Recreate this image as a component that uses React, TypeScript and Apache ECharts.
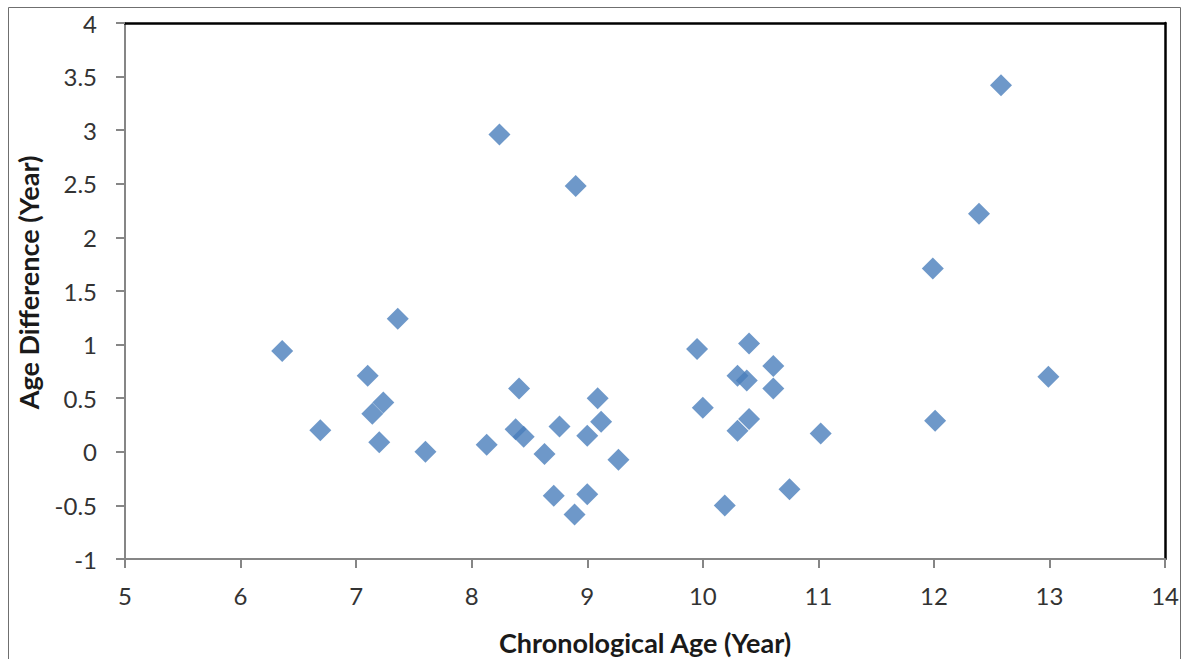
import React, { useEffect, useRef } from "react";
import * as echarts from "echarts";

const chronologicalAge = [
  6.36, 6.69, 7.1, 7.14, 7.235, 7.2, 7.36, 7.6, 8.13, 8.24, 8.41, 8.38, 8.45, 8.63, 8.71, 8.76, 8.9,
  8.89, 9.0, 9.0, 9.09, 9.12, 9.27, 9.95, 10.0, 10.19, 10.3, 10.38, 10.4, 10.3, 10.4, 10.61, 10.61,
  10.75, 11.02, 11.99, 12.01, 12.39, 12.58, 12.99,
];
const ageDifference = [
  0.94, 0.2, 0.71, 0.355, 0.46, 0.09, 1.24, 0.0, 0.065, 2.96, 0.59, 0.21, 0.14, -0.02, -0.41, 0.235,
  2.48, -0.585, -0.395, 0.15, 0.5, 0.28, -0.075, 0.96, 0.41, -0.5, 0.71, 0.665, 1.01, 0.196, 0.305,
  0.8, 0.59, -0.35, 0.17, 1.71, 0.29, 2.22, 3.42, 0.7,
];
const xTitle = "Chronological Age (Year)";
const yTitle = "Age Difference (Year)";

const FONT = "Lato, 'Noto Sans', sans-serif";

export default function App() {
  const ref = useRef<HTMLDivElement>(null);
  useEffect(() => {
    if (!ref.current) return;
    const chart = echarts.init(ref.current, undefined, { renderer: "svg" });
    const points = chronologicalAge.map((x, i) => [x, ageDifference[i]]);
    const axisGray = "#868686";
    chart.setOption({
      animation: false,
      backgroundColor: "#ffffff",
      grid: { left: 125, right: 16, top: 23, bottom: 100, containLabel: false },
      xAxis: [
        {
          type: "value",
          min: 5,
          max: 14,
          interval: 1,
          position: "bottom",
          axisLine: { show: true, onZero: false, lineStyle: { color: axisGray, width: 2 } },
          axisTick: { show: true, length: 9, lineStyle: { color: axisGray, width: 2 } },
          axisLabel: { margin: 24, fontSize: 24, color: "#333333", fontFamily: FONT },
          splitLine: { show: false },
        },
        {
          type: "value",
          min: 5,
          max: 14,
          position: "top",
          axisLine: { show: true, onZero: false, lineStyle: { color: "#000000", width: 2.5 } },
          axisTick: { show: false },
          axisLabel: { show: false },
          splitLine: { show: false },
        },
      ],
      yAxis: [
        {
          type: "value",
          min: -1,
          max: 4,
          interval: 0.5,
          position: "left",
          axisLine: { show: true, onZero: false, lineStyle: { color: axisGray, width: 2 } },
          axisTick: { show: true, length: 9, lineStyle: { color: axisGray, width: 2 } },
          axisLabel: { margin: 28, fontSize: 24, color: "#333333", fontFamily: FONT },
          splitLine: { show: false },
        },
        {
          type: "value",
          min: -1,
          max: 4,
          position: "right",
          axisLine: { show: true, onZero: false, lineStyle: { color: "#000000", width: 2.5 } },
          axisTick: { show: false },
          axisLabel: { show: false },
          splitLine: { show: false },
        },
      ],
      series: [
        {
          type: "scatter",
          xAxisIndex: 0,
          yAxisIndex: 0,
          symbol: "diamond",
          symbolSize: 22,
          itemStyle: { color: "#4A7EBB" },
          data: points,
        },
      ],
      graphic: [
        {
          type: "rect",
          silent: true,
          shape: { x: 8.5, y: 7.5, width: 1172, height: 700 },
          style: { fill: "none", stroke: "#6f6f6f", lineWidth: 1 },
        },
        {
          type: "text",
          x: 645,
          y: 642,
          style: {
            text: xTitle,
            fontSize: 27,
            fontWeight: "bold",
            fontFamily: FONT,
            fill: "#1a1a1a",
            align: "center",
            verticalAlign: "middle",
          },
        },
        {
          type: "text",
          x: 28.5,
          y: 282.5,
          rotation: Math.PI / 2,
          style: {
            text: yTitle,
            fontSize: 27,
            fontWeight: "bold",
            fontFamily: FONT,
            fill: "#1a1a1a",
            align: "center",
            verticalAlign: "middle",
          },
        },
      ],
    });
    return () => chart.dispose();
  }, []);
  return (
    <div
      ref={ref}
      style={{ position: "absolute", left: 0, top: 0, width: 1182, height: 659, background: "#fff" }}
    />
  );
}
